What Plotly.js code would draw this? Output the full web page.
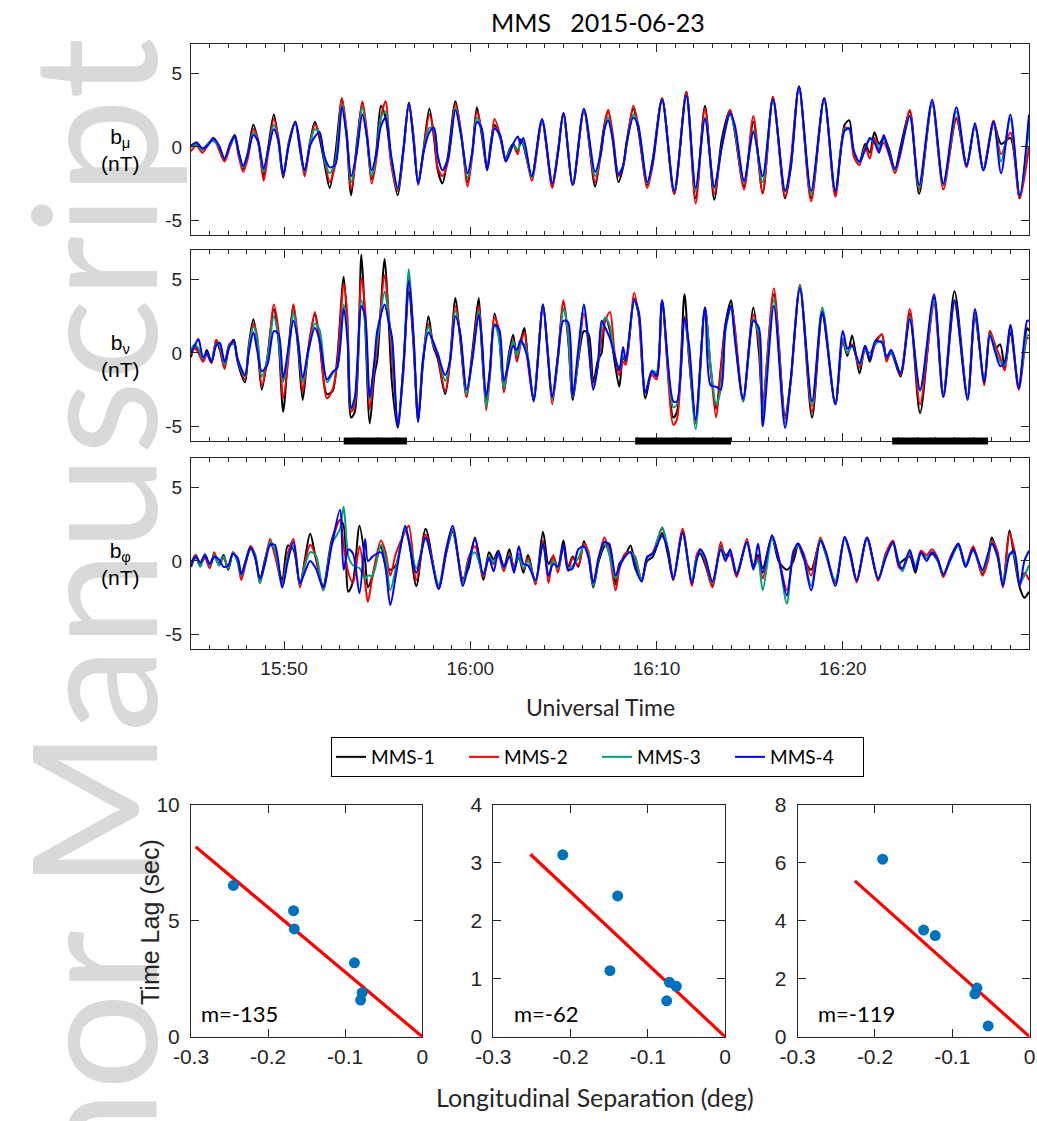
<!DOCTYPE html>
<html>
<head>
<meta charset="utf-8">
<script src="https://cdn.plot.ly/plotly-3.0.1.min.js"></script>
<style>
  html, body { margin: 0; padding: 0; background: #ffffff; }
  #chart { width: 1037px; height: 1121px; }
</style>
</head>
<body>
<div id="chart"></div>
<script>
// ---------------------------------------------------------------------------
// MMS magnetic field perturbations, 2015-06-23, 15:45-16:30 UT.
// Times are minutes after 15:45 UT; field components in nT.
// Suffix 1..4 = spacecraft MMS-1..MMS-4.
// ---------------------------------------------------------------------------

// b_mu component
const tMu = [0.0,0.3,0.6,0.9,1.2,1.5,1.8,2.1,2.35,2.55, 2.8,3.05,3.35,3.6,3.9,4.15,4.45,4.7,4.95,5.25,
  5.6,5.85,6.1,6.4,6.65,6.9,7.15,7.45,7.75,8.1, 8.35,8.6,8.9,9.2,9.45,9.7,9.95,10.2,10.45,10.75,
  11.1,11.4,11.7,11.95,12.2,12.5,12.8,13.05,13.25,13.5, 13.8,14.2,14.5,14.85,15.1,15.35,15.6,15.9,16.1,16.3,
  16.6,16.9,17.1,17.3,17.55,17.7,17.85,18.3,18.85,19.4, 19.7,20.0,20.5,21.1,21.7,22.0,22.2,22.4,22.65,22.95,
  23.2,23.4,23.75,24.0,24.5,24.8,25.3,25.95,26.6,27.1, 27.6,28.1,28.5,28.95,29.2,29.7,30.2,30.7,31.25,31.9,
  32.2,32.65,33.3,34.0,34.6,35.1,35.35,35.6,35.9,36.2, 36.45,36.7,36.95,37.2,37.5,37.8,38.1,38.6,39.1,39.8,
  40.4,41.1,41.65,42.1,42.55,43.1,43.5,44.0,44.5,45.0];
const bMu1 = [0.0,0.3,-0.2,0.2,0.5,0.0,-0.9,0.2,0.8,-0.3, -1.5,-0.4,1.5,0.4,-2.0,0.0,2.2,0.3,-2.1,0.3,
  1.7,-0.2,-1.8,0.4,1.7,0.6,-1.0,-2.8,-0.5,3.3, 0.8,-3.3,0.2,3.0,0.6,-2.2,-0.3,2.8,2.0,-1.0,
  -3.3,-0.4,3.0,0.6,-2.5,0.0,2.6,0.6,-1.6,-2.5, -0.6,3.1,0.9,-2.4,-0.4,2.7,0.9,-1.5,0.3,1.5,
  0.6,-0.8,-0.2,0.2,-0.3,0.5,0.1,-2.0,1.8,-2.7, -0.3,2.3,-2.6,2.5,-2.7,-0.2,1.5,2.5,0.5,-2.4,
  -1.4,0.4,2.6,1.3,-2.6,-0.8,3.3,-3.2,3.75,-3.5, 2.8,-3.6,0.5,2.5,1.0,-2.7,1.7,-3.1,3.4,-3.5,
  -1.5,4.1,-3.5,3.3,-3.2,1.5,1.8,-0.5,-1.0,0.2, -0.4,1.0,0.2,0.6,-0.2,-1.6,0.0,2.4,-3.2,3.0,
  -2.6,1.9,-1.2,1.4,-1.6,1.6,0.2,0.6,-3.5,1.8];
const bMu2 = [-0.3,0.1,-0.4,0.1,0.6,-0.2,-1.0,0.0,0.7,-0.6, -1.7,-0.8,1.2,0.5,-2.3,-0.4,1.9,0.6,-2.0,0.2,
  1.7,0.3,-2.0,0.2,1.5,0.9,-0.6,-2.4,-1.2,3.3, 1.2,-2.9,-0.3,3.1,1.0,-2.5,-0.9,2.0,3.1,-1.2,
  -3.0,-0.3,3.0,0.8,-2.6,-0.2,2.2,0.9,-1.4,-2.0, -1.0,2.9,1.1,-2.7,-0.6,2.4,1.2,-1.6,0.0,1.9,
  0.8,-1.0,-0.4,0.1,-0.5,0.4,0.3,-2.3,1.7,-2.8, -0.5,2.3,-2.6,2.4,-2.4,-0.6,1.3,2.5,0.9,-2.0,
  -1.3,0.2,2.8,1.6,-2.8,-1.2,3.3,-3.2,3.75,-3.85, 2.6,-3.2,0.0,2.5,1.1,-2.9,2.1,-3.2,3.4,-3.4,
  -1.0,4.1,-3.7,3.3,-3.4,1.3,1.2,-0.7,-1.25,0.0, -0.8,0.6,-0.2,0.3,-0.6,-1.8,-0.5,2.5,-2.9,3.0,
  -2.9,2.0,-1.4,1.5,-1.5,1.8,-0.5,1.0,-3.5,0.0];
const bMu3 = [0.0,0.2,-0.2,0.2,0.4,0.0,-0.8,0.1,0.6,-0.4, -1.4,-0.5,1.0,0.3,-1.7,-0.3,1.5,0.3,-1.9,0.2,
  1.6,0.0,-1.7,0.3,1.2,1.0,-0.8,-1.8,-1.0,2.9, 1.0,-2.4,-0.2,2.7,0.6,-2.0,-0.6,2.0,2.4,-0.8,
  -2.9,-0.3,2.9,0.5,-2.5,-0.2,1.3,1.2,-0.7,-1.6, -0.8,2.7,0.9,-2.1,-0.5,2.0,1.2,-1.5,0.0,1.3,
  0.7,-0.9,-0.3,0.1,-0.2,0.3,0.2,-2.1,1.8,-2.5, -0.4,2.2,-2.5,2.5,-2.0,-0.5,1.2,2.0,0.6,-1.8,
  -1.3,0.2,2.2,1.6,-2.5,-1.0,3.2,-3.0,3.5,-3.0, 2.0,-2.8,0.0,2.2,1.2,-2.4,1.1,-2.4,3.2,-3.0,
  -1.4,4.0,-3.2,3.2,-3.0,1.2,1.2,-0.3,-1.1,-0.1, 0.5,0.3,0.0,0.5,-0.4,-1.6,-0.3,2.1,-2.8,3.0,
  -2.6,2.4,-1.3,1.5,-1.5,1.6,-1.0,1.9,-3.3,1.5];
const bMu4 = [0.1,0.3,-0.1,0.1,0.6,0.1,-0.8,0.2,0.7,-0.3, -1.3,-0.5,0.8,0.4,-1.5,-0.2,1.2,0.4,-1.9,0.1,
  1.7,0.0,-1.6,0.1,0.7,1.0,-0.6,-1.4,-1.2,2.7, 0.8,-2.0,-0.4,2.2,0.7,-1.6,-0.5,1.4,2.0,-0.6,
  -2.8,-0.2,3.0,0.4,-2.5,-0.3,1.0,1.3,-0.6,-1.6, -0.8,2.5,0.8,-1.8,-0.4,1.7,1.3,-1.6,0.0,1.25,
  0.8,-1.0,-0.5,0.2,0.7,0.2,0.6,-2.0,1.9,-2.5, -0.5,2.3,-2.6,2.6,-1.7,-0.5,1.2,1.8,0.5,-1.9,
  -1.3,0.3,2.0,1.5,-2.4,-1.0,3.2,-3.0,3.5,-2.8, 1.9,-2.7,0.0,2.3,1.5,-2.3,1.0,-2.0,3.2,-3.0,
  -1.4,4.1,-3.0,3.3,-3.0,1.1,1.25,-0.3,-1.0,-0.2, 0.6,0.3,-0.4,0.8,-0.5,-1.5,-0.3,2.1,-2.6,3.2,
  -2.5,2.7,-1.3,1.6,-1.6,1.7,-1.8,2.2,-3.3,2.2];

// b_nu component
const tNu = [0.0,0.2,0.4,0.65,0.85,1.1,1.35,1.55,1.8,2.05, 2.3,2.5,2.9,3.1,3.35,3.55,3.8,4.1,4.45,4.7,
  4.95,5.25,5.5,5.75,6.0,6.3,6.65,6.9,7.3,7.6, 7.85,8.2,8.4,8.6,8.8,9.15,9.35,9.6,9.85,10.0,
  10.4,10.6,10.8,11.1,11.4,11.7,11.95,12.2,12.45,12.75, 13.0,13.25,13.65,13.9,14.2,14.45,14.8,15.1,15.45,15.6,
  15.85,16.05,16.3,16.55,16.8,17.05,17.3,17.5,17.7,17.9, 18.1,18.4,18.9,19.15,19.4,19.7,20.0,20.25,20.5,20.8,
  21.1,21.35,21.6,21.85,22.05,22.25,22.5,22.75,23.0,23.2, 23.35,23.8,24.05,24.4,24.75,25.0,25.3,25.9,26.1,26.5,
  26.75,27.1,27.6,27.9,28.2,28.45,28.7,29.0,29.2,29.65, 30.2,30.5,30.7,31.3,31.9,32.2,32.7,33.35,33.9,34.6,
  35.0,35.25,35.5,35.9,36.2,36.45,36.75,37.1,37.35,37.6, 38.1,38.6,39.15,39.9,40.4,41.0,41.7,42.1,42.6,42.9,
  43.2,43.45,43.7,44.0,44.45,44.9,45.0];
const bNu1 = [-0.3,0.5,0.2,-0.5,0.2,-0.6,0.8,0.2,-1.0,0.4, 0.9,-0.6,-2.0,0.5,2.3,0.8,-2.5,-0.3,3.0,0.8,
  -4.0,0.5,3.3,0.3,-3.2,0.3,2.6,0.8,-2.8,-2.6, -0.4,5.2,1.5,-4.4,-4.0,6.7,2.0,-4.8,-1.5,-0.5,
  6.4,2.5,-2.2,-5.1,-1.0,4.2,0.5,-4.6,-0.8,2.5, 0.5,-0.4,-2.8,-0.6,3.75,1.0,-3.0,0.0,3.75,0.6,
  -3.4,-1.2,2.7,1.0,-2.6,-0.2,1.25,-0.4,0.8,1.7, -0.5,-3.0,3.3,0.3,-3.2,-0.2,3.4,1.0,-3.2,-0.5,
  1.5,1.3,-2.0,-0.5,0.0,2.4,1.5,-0.6,-2.3,-0.3, -0.6,3.7,2.5,-3.1,-1.3,-1.5,3.4,-4.4,-4.0,4.0,
  -0.5,-4.6,3.1,-1.0,-3.8,-1.0,2.0,3.6,1.5,-3.3, 3.1,0.0,-3.5,4.0,-4.3,-1.9,4.5,-4.4,2.6,-3.5,
  0.8,-0.2,1.2,-1.4,0.5,-0.6,0.8,1.25,-0.4,0.0, -1.6,2.7,-4.1,3.8,-2.8,4.2,-3.0,2.4,-2.0,1.5,
  0.3,0.6,-1.0,1.4,-2.2,1.7,1.5];
const bNu2 = [-0.1,0.3,0.0,-0.6,-0.1,-0.7,0.9,0.4,-1.1,0.6, 0.7,-0.4,-1.8,0.2,2.0,1.2,-2.2,-0.5,3.3,1.5,
  -3.1,-0.2,3.3,0.9,-2.6,0.2,2.8,1.0,-3.1,-2.5, -0.8,4.7,2.5,-4.0,-3.5,5.1,3.0,-3.8,-1.0,0.4,
  5.3,3.0,-0.5,-4.6,-1.5,5.3,0.8,-4.5,-0.6,2.0, 0.6,-0.2,-2.6,-0.8,3.2,1.3,-3.0,-0.3,3.2,1.2,
  -3.9,-1.6,2.4,1.5,-2.7,-0.6,0.9,-0.6,0.6,1.4, -0.8,-3.2,3.3,0.0,-3.5,-0.4,3.6,1.2,-3.0,-0.3,
  2.7,0.8,-2.3,-0.8,1.0,2.2,2.8,0.0,-1.5,-0.6, -0.8,4.1,2.4,-2.6,-1.5,-1.8,3.6,-4.9,-4.5,2.5,
  -0.2,-4.8,3.0,-1.0,-4.4,-1.2,1.7,3.2,1.8,-3.2, 2.6,0.7,-3.8,4.4,-4.5,-2.0,4.65,-4.0,2.9,-3.5,
  0.9,0.0,0.6,-1.0,0.2,-0.3,0.6,1.3,-0.6,0.2, -1.5,3.0,-3.5,3.3,-3.0,3.4,-2.9,2.8,-2.2,1.5,
  0.5,-0.3,-1.2,1.8,-2.5,1.0,1.0];
const bNu3 = [0.2,0.6,0.3,-0.4,0.0,-0.5,0.6,0.5,-0.8,0.5, 0.6,-0.5,-1.6,0.3,1.8,1.0,-1.6,-0.4,2.5,1.0,
  -2.0,0.2,2.8,0.6,-2.0,0.0,2.0,1.6,-2.0,-1.4, -1.0,3.3,1.5,-3.8,-3.2,3.6,2.0,-3.2,-0.6,0.8,
  4.2,2.6,0.5,-4.9,-1.0,5.7,1.0,-4.7,-0.4,1.8, 0.6,0.0,-1.9,-0.6,2.9,1.3,-2.8,-0.5,2.9,1.0,
  -3.7,-1.4,2.0,0.9,-2.4,-0.5,0.8,-0.2,0.6,0.6, -0.3,-3.2,3.3,0.2,-3.2,-0.5,3.0,1.5,-3.0,-0.2,
  3.3,0.6,-2.5,-0.8,1.8,2.4,1.8,-0.2,-1.0,-0.2, -0.5,3.6,2.6,-2.7,-1.2,-1.3,3.5,-3.7,-3.5,2.3,
  0.0,-5.2,3.0,-0.8,-3.5,-2.5,1.5,3.2,1.2,-3.3, 2.3,1.2,-4.2,3.6,-4.8,-2.0,4.6,-3.6,3.1,-3.5,
  1.0,0.0,0.5,-0.8,0.2,0.0,0.6,0.8,-0.2,0.0, -1.3,2.4,-2.6,3.5,-2.8,3.5,-3.0,2.7,-2.0,1.3,
  0.2,-0.6,-0.8,1.9,-2.3,1.2,1.2];
const bNu4 = [0.0,0.5,0.95,-0.3,0.0,-0.6,0.5,0.7,-0.6,0.4, 0.8,-0.4,-1.5,0.0,1.4,0.2,-1.25,-0.8,1.5,1.3,
  -1.7,0.5,2.2,0.8,-1.7,0.2,1.7,0.9,-1.8,-1.3, -1.0,3.0,1.0,-3.75,-3.0,3.2,2.5,-3.0,-0.5,1.5,
  3.3,2.2,1.0,-5.0,-1.0,4.9,1.2,-4.7,-0.6,1.4, 0.8,-0.1,-1.5,-0.6,2.5,1.4,-2.5,-0.5,2.6,1.2,
  -3.0,-1.2,1.9,1.6,-1.9,-0.8,0.5,0.2,0.9,0.4, -0.5,-3.3,3.3,0.0,-3.0,-0.3,2.2,2.1,-2.9,0.3,
  3.3,0.5,-2.5,-0.8,2.2,1.7,1.0,-0.2,-1.2,0.4, -0.5,3.6,2.8,-2.7,-1.25,-1.6,3.6,-3.3,-3.3,2.4,
  0.5,-4.5,3.1,-2.2,-2.3,-2.5,1.8,3.2,1.0,-3.1, 2.2,1.7,-5.0,3.2,-5.1,-1.9,4.4,-3.3,2.8,-3.5,
  1.5,0.3,0.5,-0.7,0.5,-0.4,0.8,0.7,-0.3,0.2, -1.4,2.3,-2.5,4.0,-3.0,3.6,-3.2,3.0,-2.0,1.2,
  0.0,-0.9,-0.6,1.9,-2.4,2.2,2.2];

// b_phi component
const tPhi = [0.0,0.25,0.5,0.75,1.0,1.25,1.5,1.75,2.0,2.25, 2.5,2.7,2.95,3.2,3.45,3.7,3.95,4.25,4.5,4.9,
  5.2,5.5,5.85,6.1,6.4,6.7,7.1,7.55,8.0,8.2, 8.45,8.7,9.05,9.35,9.5,9.75,10.2,10.45,10.7,11.0,
  11.5,11.7,12.1,12.6,13.3,13.7,14.05,14.6,14.9,15.25, 15.7,16.0,16.25,16.5,16.8,17.1,17.35,17.6,17.85,18.1,
  18.5,18.9,19.2,19.45,19.7,20.0,20.25,20.5,20.8,21.1, 21.35,21.6,21.9,22.2,22.45,22.8,23.0,23.3,23.6,23.85,
  24.2,24.5,24.8,25.3,25.6,25.9,26.4,26.9,27.15,27.35, 27.6,28.0,28.45,28.7,28.95,29.3,29.85,30.2,30.45,30.7,
  31.2,31.55,32.0,32.35,32.6,32.9,33.3,33.8,34.1,34.6, 35.1,35.4,35.75,36.3,36.9,37.3,37.7,38.0,38.2,38.6,
  38.9,39.2,39.5,39.8,40.1,40.4,40.8,41.2,41.6,42.0, 42.5,42.8,43.0,43.3,43.6,43.95,44.2,44.5,44.75,45.0];
const bPhi1 = [-0.2,0.4,-0.3,0.4,-0.4,0.3,-0.2,0.4,-0.6,0.5, 0.2,-0.9,0.1,1.0,0.2,-1.3,0.0,1.2,0.6,-1.3,
  1.05,0.8,-1.7,0.0,1.85,0.2,-1.7,1.4,2.8,2.4, -2.1,-1.4,2.4,0.0,-1.8,-1.0,1.0,-0.2,-0.6,-0.3,
  2.2,1.4,-1.7,2.2,-1.9,0.5,2.0,-1.2,-0.5,1.6, -1.3,0.6,0.1,0.7,-0.4,0.8,-0.6,0.3,-0.8,0.4,
  -1.5,2.0,-0.2,0.3,-0.5,1.4,-0.4,0.3,-0.4,1.35, 0.3,-1.8,0.0,1.0,1.2,-1.6,-0.2,0.3,1.05,-0.2,
  -1.2,0.0,0.3,1.9,0.5,-1.3,2.0,-1.6,0.2,0.5, -0.2,-1.7,1.0,0.4,0.6,-1.0,1.3,-0.3,0.4,-0.5,
  1.6,0.0,-0.6,0.0,1.1,0.2,-0.6,1.4,0.4,-1.5, 1.6,0.4,-1.4,1.5,-1.3,0.4,1.2,-0.2,0.0,0.3,
  -0.8,0.6,0.2,0.5,0.0,-1.0,0.3,1.1,-0.4,0.9, -0.9,0.2,1.6,0.5,-1.6,2.1,0.3,-1.8,-2.5,-2.1];
const bPhi2 = [-0.4,0.4,-0.2,0.2,-0.5,0.6,-0.3,0.2,-0.5,0.6, 0.0,-1.3,-0.1,1.0,0.4,-1.5,-0.2,1.5,0.4,-1.5,
  0.5,1.5,-1.8,-0.2,1.1,0.3,-2.0,1.2,2.8,1.0, -0.8,-1.5,1.0,-1.5,-2.8,-1.0,1.4,0.6,-1.0,0.5,
  2.0,2.4,-1.3,1.8,-1.7,0.8,2.2,-1.4,0.2,1.0, -1.1,0.2,-0.2,0.4,-0.7,0.5,-0.4,0.5,-0.6,0.2,
  -1.6,1.4,-1.5,0.4,-0.8,1.0,-0.7,0.2,-0.3,1.2, 0.6,-1.6,0.2,1.6,0.6,-2.0,-0.6,0.5,0.6,0.3,
  -1.4,0.2,0.6,2.2,0.8,-1.3,2.2,-1.7,0.4,0.8, 0.0,-1.8,1.3,0.2,0.4,-1.1,1.5,-0.5,0.2,-1.2,
  1.7,0.3,-2.0,0.4,1.2,0.5,-1.0,1.6,0.5,-1.5, 1.6,0.6,-1.45,1.6,-1.35,0.5,1.4,-0.4,-0.6,0.5,
  -0.4,0.7,0.4,0.8,0.2,-1.1,0.3,1.2,-0.3,1.0, -1.0,0.0,1.4,0.7,-1.8,1.9,0.8,-1.6,-0.8,-1.3];
const bPhi3 = [-0.3,0.2,-0.4,0.5,-0.3,0.4,-0.3,0.3,-0.5,0.6, -0.1,-1.0,0.0,0.8,0.4,-1.5,-0.2,1.3,0.8,-1.8,
  0.3,1.0,-1.6,-0.4,0.6,0.4,-2.0,1.1,2.2,3.7, 0.3,-0.3,-0.5,-1.2,-1.0,-1.0,1.1,0.2,-2.0,-0.5,
  2.2,1.5,-0.5,1.5,-1.6,0.6,2.1,-1.5,0.0,0.6, -0.9,0.3,-0.1,0.5,-0.5,0.4,-0.6,0.4,-0.5,0.0,
  -1.4,1.2,-1.0,0.0,-0.5,1.0,-0.5,-0.3,0.2,1.0, 0.4,-1.7,0.2,1.2,0.5,-1.2,-0.4,0.3,0.6,0.2,
  -1.3,0.2,0.5,2.3,0.9,-1.1,1.9,-1.4,0.2,0.6, 0.2,-1.5,0.9,0.2,0.6,-0.8,1.3,-0.4,0.0,-2.0,
  1.5,0.2,-2.9,0.7,1.0,0.3,-1.7,1.5,0.4,-1.3, 1.5,0.5,-1.3,1.5,-1.2,0.3,1.2,0.0,-0.7,0.6,
  -0.3,0.5,0.2,0.6,0.0,-0.9,0.1,1.0,-0.2,0.7, -0.7,0.3,1.3,0.3,-1.4,0.5,0.4,-1.5,-1.0,-0.3];
const bPhi4 = [-0.4,0.3,-0.1,0.4,-0.2,0.3,0.1,-0.4,-0.3,0.5, 0.2,-0.9,0.0,0.9,0.2,-1.2,-0.3,1.1,1.1,-1.8,
  0.0,1.3,-1.5,-0.8,0.0,-0.5,-1.8,1.0,3.5,-0.6, 0.8,0.5,-2.2,1.5,0.0,0.3,0.6,-0.5,-3.0,-1.0,
  2.4,1.3,-0.8,1.6,-1.9,0.7,2.4,-1.7,-0.2,1.5, -0.9,0.2,-0.7,0.6,-0.4,0.3,-0.8,1.0,-0.2,-0.3,
  -1.3,1.2,-1.0,-0.2,-0.4,1.1,-0.6,-0.5,0.8,1.0, 0.2,-1.5,0.3,1.3,1.1,-1.0,-0.4,0.3,0.6,-0.5,
  -1.4,0.3,0.5,1.7,0.8,-1.2,1.9,-1.5,0.0,0.8, 0.3,-1.4,0.8,0.0,0.8,-0.9,1.3,-0.6,1.2,-0.8,
  1.75,0.2,-2.35,0.6,1.2,0.3,-2.0,1.4,0.6,-1.7, 1.65,0.5,-1.3,1.6,-1.2,0.2,1.3,-0.2,-0.5,0.75,
  -0.6,0.6,0.0,0.6,0.1,-0.9,0.2,1.2,-0.4,0.8, -0.6,0.5,1.2,0.4,-1.7,0.4,0.7,-1.7,0.0,0.7];

// Analysis intervals (minutes after 15:45 UT), marked under the b_nu panel
const intervalStart = [8.2, 23.85, 37.65];
const intervalEnd   = [11.6, 29.0, 42.8];

// Time lag vs longitudinal separation, one set per interval
const lonSep1 = [-0.245, -0.167, -0.166, -0.088, -0.078, -0.080];
const lag1    = [6.53, 5.44, 4.65, 3.19, 1.90, 1.58];
const lonSep2 = [-0.210, -0.139, -0.149, -0.072, -0.063, -0.0755];
const lag2    = [3.14, 2.43, 1.14, 0.94, 0.87, 0.62];
const lonSep3 = [-0.190, -0.137, -0.122, -0.068, -0.0707, -0.0535];
const lag3    = [6.13, 3.68, 3.49, 1.68, 1.48, 0.37];

// Fitted lines through the origin, and their quoted slopes
const fitX1 = [-0.294, 0], fitY1 = [8.2, 0];
const fitX2 = [-0.252, 0], fitY2 = [3.15, 0];
const fitX3 = [-0.226, 0], fitY3 = [5.38, 0];
const fitSlope = [-135, -62, -119];

// Tick labels
const timeTickVals = [5, 15, 25, 35];
const timeTickText = ['15:50', '16:00', '16:10', '16:20'];
const fieldTickVals = [-5, 0, 5];
const fieldTickText = ['-5', '0', '5'];
const sepTickVals = [-0.3, -0.2, -0.1, 0];
const sepTickText = ['-0.3', '-0.2', '-0.1', '0'];
const lagTickVals1 = [0, 5, 10];
const lagTickVals2 = [0, 1, 2, 3, 4];
const lagTickVals3 = [0, 2, 4, 6, 8];

const scNames = ['MMS-1', 'MMS-2', 'MMS-3', 'MMS-4'];
const scColors = ['#000000', '#ff0000', '#00a078', '#0000ff'];

// ---------------------------------------------------------------------------
const W = 1037, H = 1121;
const px = v => v / W;        // horizontal pixel -> paper fraction
const py = v => 1 - v / H;    // vertical pixel -> paper fraction

const ink = '#262626';
const tickFont = {family: 'Liberation Sans, Arial, sans-serif', size: 19, color: ink};
const sansFont = 'Lato, "Open Sans", sans-serif';

const panels = [
  {t: tMu,  series: [bMu1, bMu2, bMu3, bMu4],     top: 44,    bottom: 235, label: 'b<sub>μ</sub>'},
  {t: tNu,  series: [bNu1, bNu2, bNu3, bNu4],     top: 250.3, bottom: 441, label: 'b<sub>ν</sub>'},
  {t: tPhi, series: [bPhi1, bPhi2, bPhi3, bPhi4], top: 458.3, bottom: 649, label: 'b<sub>φ</sub>'}
];

const scatters = [
  {x: lonSep1, y: lag1, fx: fitX1, fy: fitY1, m: fitSlope[0], ymax: 10, ticks: lagTickVals1, left: 191,   right: 422.3, mx: -0.29,  my: 1.0},
  {x: lonSep2, y: lag2, fx: fitX2, fy: fitY2, m: fitSlope[1], ymax: 4,  ticks: lagTickVals2, left: 493.3, right: 725,   mx: -0.276, my: 0.40},
  {x: lonSep3, y: lag3, fx: fitX3, fy: fitY3, m: fitSlope[2], ymax: 8,  ticks: lagTickVals3, left: 797.7, right: 1029.5, mx: -0.276, my: 0.81}
];
const scTop = 805, scBottom = 1036.7;

const traces = [];
const layout = {
  width: W, height: H,
  margin: {l: 0, r: 0, t: 0, b: 0},
  paper_bgcolor: '#ffffff', plot_bgcolor: '#ffffff',
  font: {family: 'Liberation Sans, Arial, sans-serif', color: ink},
  showlegend: true,
  legend: {
    orientation: 'h',
    x: px(597.5), xanchor: 'center',
    y: py(737), yanchor: 'top',
    bordercolor: '#000000', borderwidth: 1, bgcolor: '#ffffff',
    font: {family: sansFont, size: 19, color: '#000000'},
    entrywidth: 88, entrywidthmode: 'pixels',
    tracegroupgap: 0, itemclick: false, itemdoubleclick: false
  },
  annotations: [],
  shapes: []
};

function boxAxis(extra) {
  return Object.assign({
    showgrid: false, zeroline: false,
    showline: true, linecolor: ink, linewidth: 1, mirror: 'ticks',
    ticks: 'inside', tickcolor: ink, tickwidth: 1, ticklen: 8,
    tickfont: tickFont, fixedrange: true
  }, extra);
}

// Watermark running up the left margin (drawn first, so it sits beneath everything)
layout.annotations.push({
  xref: 'paper', yref: 'paper', x: px(90), y: py(36),
  xanchor: 'center', yanchor: 'top', textangle: -90,
  text: 'Author Manuscript', showarrow: false,
  font: {family: sansFont, size: 172, color: '#d9d9d9'}
});

panels.forEach((p, i) => {
  const n = i + 1;
  const xa = 'xaxis' + (n === 1 ? '' : n), ya = 'yaxis' + (n === 1 ? '' : n);
  const xr = 'x' + (n === 1 ? '' : n),     yr = 'y' + (n === 1 ? '' : n);
  layout[xa] = boxAxis({
    domain: [px(191), px(1029)], anchor: yr, range: [0, 45],
    tickvals: timeTickVals, ticktext: timeTickText,
    showticklabels: n === 3, ticklabelstandoff: 2,
    minor: {dtick: 1, tick0: 0, ticks: 'inside', ticklen: 4, tickcolor: ink, tickwidth: 1, showgrid: false}
  });
  layout[ya] = boxAxis({
    domain: [py(p.bottom), py(p.top)], anchor: xr, range: [-6, 7],
    tickvals: fieldTickVals, ticktext: fieldTickText, ticklabelstandoff: 4
  });
  p.series.forEach((vals, s) => {
    traces.push({
      type: 'scatter', mode: 'lines', x: p.t, y: vals,
      xaxis: xr, yaxis: yr,
      name: scNames[s], legendgroup: scNames[s], showlegend: i === 0,
      line: {color: scColors[s], width: 2, shape: 'spline', smoothing: 0.8},
      hoverinfo: 'skip'
    });
  });
  layout.annotations.push({
    xref: 'paper', yref: 'paper', x: px(120), y: py((p.top + p.bottom) / 2 + 10),
    xanchor: 'center', yanchor: 'middle', align: 'center',
    text: p.label + '<br>(nT)', showarrow: false,
    font: {family: 'Liberation Sans, Arial, sans-serif', size: 21, color: '#000000'}
  });
});

// Interval markers on the lower edge of the b_nu panel
intervalStart.forEach((t0, k) => {
  layout.shapes.push({
    type: 'line', xref: 'x2', yref: 'y2 domain',
    x0: t0, x1: intervalEnd[k], y0: 0, y1: 0,
    line: {color: '#000000', width: 7}
  });
});

scatters.forEach((sp, i) => {
  const n = i + 4;
  const xr = 'x' + n, yr = 'y' + n;
  layout['xaxis' + n] = boxAxis({
    domain: [px(sp.left), px(sp.right)], anchor: yr, range: [-0.3, 0],
    tickvals: sepTickVals, ticktext: sepTickText, ticklabelstandoff: 1,
    tickfont: Object.assign({}, tickFont, {size: 21})
  });
  layout['yaxis' + n] = boxAxis({
    domain: [py(scBottom), py(scTop)], anchor: xr, range: [0, sp.ymax],
    tickvals: sp.ticks, ticklabelstandoff: 6,
    tickfont: Object.assign({}, tickFont, {size: 21})
  });
  traces.push({
    type: 'scatter', mode: 'lines', x: sp.fx, y: sp.fy, xaxis: xr, yaxis: yr,
    line: {color: '#ff0000', width: 3.2}, showlegend: false, hoverinfo: 'skip', cliponaxis: false
  });
  traces.push({
    type: 'scatter', mode: 'markers', x: sp.x, y: sp.y, xaxis: xr, yaxis: yr,
    marker: {color: '#0072bd', size: 11, line: {width: 0}}, showlegend: false, hoverinfo: 'skip'
  });
  layout.annotations.push({
    xref: xr, yref: yr, x: sp.mx, y: sp.my, xanchor: 'left', yanchor: 'middle',
    text: 'm=' + sp.m, showarrow: false,
    font: {family: sansFont, size: 22, color: '#000000'}
  });
});

// Titles and axis captions
layout.annotations.push(
  {xref: 'paper', yref: 'paper', x: px(598), y: py(22), xanchor: 'center', yanchor: 'middle',
   text: 'MMS\u00a0\u00a0\u00a02015-06-23', showarrow: false,
   font: {family: sansFont, size: 25, color: '#000000'}},
  {xref: 'paper', yref: 'paper', x: px(600), y: py(707), xanchor: 'center', yanchor: 'middle',
   text: 'Universal Time', showarrow: false,
   font: {family: sansFont, size: 23, color: ink}},
  {xref: 'paper', yref: 'paper', x: px(595), y: py(1097), xanchor: 'center', yanchor: 'middle',
   text: 'Longitudinal Separation (deg)', showarrow: false,
   font: {family: sansFont, size: 25, color: ink}},
  {xref: 'paper', yref: 'paper', x: px(150), y: py(922), xanchor: 'center', yanchor: 'middle',
   textangle: -90, text: 'Time Lag (sec)', showarrow: false,
   font: {family: '"Liberation Sans Narrow", "Liberation Sans", sans-serif', size: 25, color: ink}}
);

Plotly.newPlot('chart', traces, layout, {staticPlot: true, displayModeBar: false});
</script>
</body>
</html>
